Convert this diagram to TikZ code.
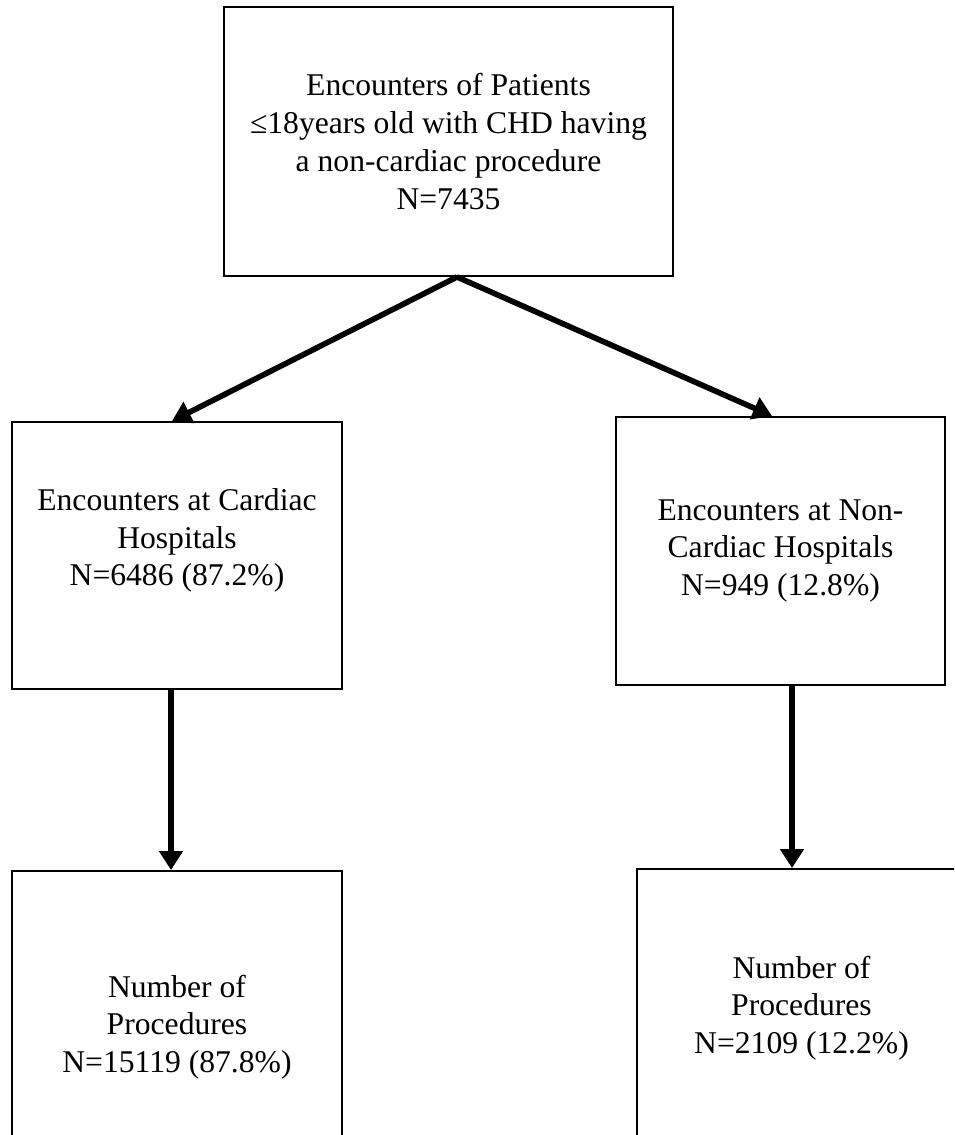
\documentclass[tikz,border=0pt]{standalone}
\usepackage{fontspec}
\setmainfont{Liberation Serif}
\usepackage{tikz}
\usetikzlibrary{arrows.meta}
\tikzset{box/.style={draw, line width=1.1pt, align=center, inner sep=0pt, font=\fontsize{18}{21.5}\selectfont}}
\tikzset{flow/.style={line width=3.2pt, -{Triangle[width=0.46cm,length=0.38cm]}}}

\begin{document}
\begin{tikzpicture}[>=stealth]
\useasboundingbox (0,0) rectangle (19.08,-22.7);
\clip (0,0) rectangle (19.08,-22.7);
\node[box, minimum width=8.98cm, minimum height=5.38cm] (enc) at (8.97,-2.83) {Encounters of Patients\\≤18years old with CHD having\\a non-cardiac procedure\\N=7435};
\node[box, minimum width=6.6cm, minimum height=5.34cm, label={[font=\fontsize{18}{21.5}\selectfont, align=center, yshift=0.3cm]center:Encounters at Cardiac\\Hospitals\\N=6486 (87.2\%)}] (encC) at (3.54,-11.11) {};
\node[box, minimum width=6.58cm, minimum height=5.36cm] (encN) at (15.61,-11.02) {Encounters at Non-\\Cardiac Hospitals\\N=949 (12.8\%)};
\node[box, minimum width=6.6cm, minimum height=6.24cm] (procC) at (3.54,-20.54) {Number of\\Procedures\\N=15119 (87.8\%)};
\node[box, minimum width=6.58cm, minimum height=5.56cm] (procN) at (16.03,-20.16) {Number of\\Procedures\\N=2109 (12.2\%)};
\coordinate (split) at ([xshift=0.17cm]enc.south);
\draw[flow] (split) -- ([xshift=-0.1cm]encC.north);
\draw[flow] (split) -- ([xshift=-0.17cm]encN.north);
\draw[flow] ([xshift=-0.12cm]encC.south) -- ([xshift=-0.12cm]encC.south |- procC.north);
\draw[flow] ([xshift=0.23cm]encN.south) -- ([xshift=0.23cm]encN.south |- procN.north);
\end{tikzpicture}
\end{document}
